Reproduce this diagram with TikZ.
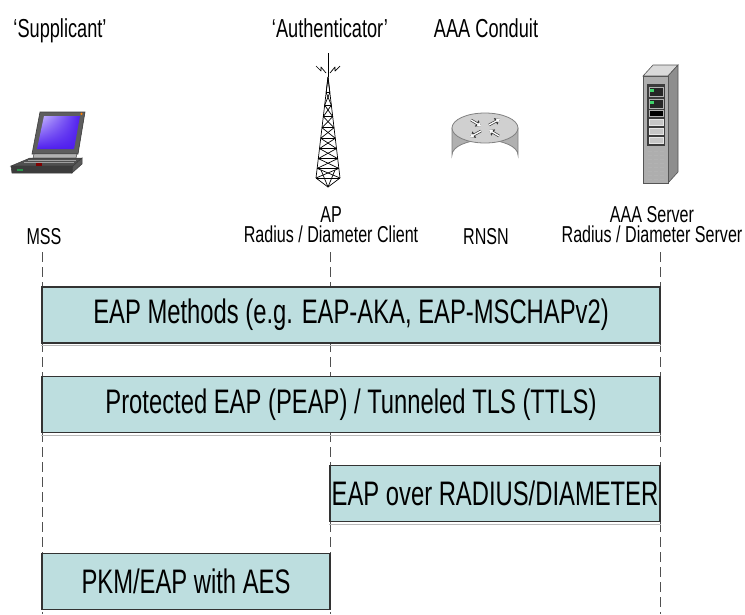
\documentclass[tikz,border=0pt]{standalone}
\usepackage{fontspec}
\setmainfont[FakeStretch=0.70]{Liberation Sans}
\usetikzlibrary{arrows.meta,shadings}

\definecolor{boxfill}{HTML}{BDDEDF}
\definecolor{boxedge}{HTML}{333333}
\definecolor{lifegray}{HTML}{505050}
\definecolor{lidgray}{HTML}{5E5E5E}
\definecolor{darkgray2}{HTML}{3C3C3C}
\definecolor{screenblue}{HTML}{4F1EEE}
\definecolor{screenlight}{HTML}{CFC4FF}
\definecolor{routertop}{HTML}{D0D0D0}
\definecolor{routerside}{HTML}{B0B0B0}
\definecolor{routeredge}{HTML}{808080}
\definecolor{srvfront}{HTML}{AEAEAE}
\definecolor{srvtop}{HTML}{DADADA}
\definecolor{srvside}{HTML}{8E8E8E}
\definecolor{srvedge}{HTML}{555555}
\definecolor{ledgreen}{HTML}{3FD36A}

\tikzset{
  layerbox/.style={draw=boxedge, line width=1.3pt, fill=boxfill, inner sep=0pt,
    minimum height=56pt, font=\fontsize{34}{38}\selectfont},
  boxshadow/.style={draw=gray!55, line width=1pt},
  toplabel/.style={inner sep=0pt, anchor=base, font=\fontsize{26}{28}\selectfont},
  sublabel/.style={inner sep=0pt, align=center, font=\fontsize{23}{20}\selectfont},
  lifeline/.style={draw=lifegray, line width=0.8pt, dash pattern=on 10pt off 5pt},
  towerline/.style={draw=black, line width=0.7pt, line join=round},
}

\begin{document}
\begin{tikzpicture}[x=1pt, y=-1pt]
\useasboundingbox (0,0) rectangle (745,614);

% ---------- role headings ----------
\node[toplabel] (supplicant) at (60,37) {‘Supplicant’};
\node[toplabel] (authenticator) at (330,37) {‘Authenticator’};
\node[toplabel] (conduit) at (486,37) {AAA Conduit};

% ---------- laptop (MSS) ----------
\fill[lidgray, draw=darkgray2, line width=0.6pt] (40,112) -- (85,112) -- (78,154) -- (32,154) -- cycle;
\shade[upper left=screenlight, upper right=screenblue, lower left=screenblue, lower right=screenblue]
  (44,116) -- (80,116) -- (74,149) -- (37,149) -- cycle;
\fill[orange] (81.5,113.8) circle (1.2pt);
\fill[gray!60, draw=darkgray2, line width=0.4pt] (34,154) -- (77,154) -- (76,158) -- (33,158) -- cycle;
% base: top, front and side faces
\fill[lidgray!85!black, draw=darkgray2, line width=0.5pt] (30,158) -- (82,158) -- (73,166) -- (11,166) -- cycle;
\fill[darkgray2, draw=darkgray2, line width=0.5pt] (11,166) -- (73,166) -- (72,173) -- (12,173) -- cycle;
\fill[gray!70!black, draw=darkgray2, line width=0.5pt] (73,166) -- (82,158) -- (82,164) -- (72,173) -- cycle;
\draw[gray!75, line width=0.7pt] (28,160) -- (76,160) (24,162.5) -- (74,162.5);
\fill[red!50!black] (36,163) rectangle (42,165.5);
\fill[ledgreen!70!black] (17,169) rectangle (23,170.5);

% ---------- antenna tower (AP) ----------
\draw[towerline] (328,53) -- (328,77);
\draw[towerline] (316,66) -- (321,71) -- (321,67) -- (326,73);
\draw[towerline] (340,66) -- (335,71) -- (335,67) -- (330,73);
\draw[towerline] (328,77) -- (316,178) (328,77) -- (340,178);
\foreach \i in {1,...,9}{
  \pgfmathsetmacro\ta{((\i-1)/9)^0.85}
  \pgfmathsetmacro\tb{(\i/9)^0.85}
  \draw[towerline] ({328-12*\tb},{77+101*\tb}) -- ({328+12*\tb},{77+101*\tb});
  \draw[towerline] ({328-12*\ta},{77+101*\ta}) -- ({328+12*\tb},{77+101*\tb});
  \draw[towerline] ({328+12*\ta},{77+101*\ta}) -- ({328-12*\tb},{77+101*\tb});
}
\draw[towerline] (316,178) -- (328,187) -- (340,178);
\draw[towerline] (321,170) -- (328,187) -- (335,170);

% ---------- router (RNSN) ----------
\fill[routerside, draw=routeredge, line width=0.8pt]
  (452,128) -- (452,155) arc[start angle=180, end angle=360, x radius=33, y radius=15] -- (518,128) -- cycle;
\fill[routertop, draw=routeredge, line width=0.8pt] (485,128) ellipse[x radius=33, y radius=15];
\foreach \sx/\sy/\ex/\ey in {471/120/481/126, 499/136/489/130, 489/125/500/119, 481/131/470/137}{
  \draw[-{Triangle[width=7pt,length=5pt]}, draw=gray!40!black, line width=2.6pt] (\sx,\sy) -- (\ex,\ey);
  \draw[-{Triangle[width=4.5pt,length=3.5pt]}, draw=white, line width=1.3pt] (\sx,\sy) -- (\ex,\ey);
}

% ---------- server (AAA) ----------
\fill[srvtop, draw=srvedge, line width=0.6pt] (643,76) -- (668,76) -- (678,65) -- (653,65) -- cycle;
\fill[srvside, draw=srvedge, line width=0.6pt] (668,76) -- (678,65) -- (678,172) -- (668,183) -- cycle;
\fill[srvfront, draw=srvedge, line width=0.6pt] (643,76) rectangle (668,183);
\fill[darkgray2] (647,84) rectangle (665,146);
\fill[gray!30!black, draw=gray!60] (649,87) rectangle (663,96);
\fill[ledgreen] (650,89) rectangle (654,91.5);
\fill[gray!30!black, draw=gray!60] (649,99) rectangle (663,108);
\fill[ledgreen] (650,101) rectangle (654,103.5);
\fill[black, draw=gray!60] (649,110) rectangle (663,116);
\foreach \yy in {119,128,137}{
  \fill[gray!45, draw=gray!20] (649,\yy) rectangle (663,{\yy+6});
}
\foreach \yy in {151,155,...,179}{
  \draw[gray!60, line width=0.6pt] (648,\yy) -- (652,\yy) (654,\yy) -- (658,\yy) (660,\yy) -- (664,\yy);
}

% ---------- entity labels ----------
\node[sublabel, anchor=north] (ap) at (331,206.5) {AP\\Radius / Diameter Client};
\node[sublabel, anchor=base] (mss) at (44,244) {MSS};
\node[sublabel, anchor=base] (rnsn) at (486,244) {RNSN};
\node[sublabel, anchor=north] (aaa) at (652,206.5) {AAA Server\\Radius / Diameter Server};

% ---------- lifelines ----------
\coordinate (mssTop) at (42,252);  \coordinate (mssEnd) at (42,614);
\coordinate (apTop)  at (330,252); \coordinate (apEnd)  at (330,614);
\coordinate (aaaTop) at (660,252); \coordinate (aaaEnd) at (660,614);
\draw[lifeline] (mssTop) -- (mssEnd);
\draw[lifeline] (apTop) -- (apEnd);
\draw[lifeline] (aaaTop) -- (aaaEnd);

% ---------- protocol layers ----------
\node[layerbox, minimum width=618pt] (methods) at (351,315) {EAP Methods (e.g. EAP-AKA, EAP-MSCHAPv2)};
\node[layerbox, minimum width=618pt] (peap) at (351,404.5) {Protected EAP (PEAP) / Tunneled TLS (TTLS)};
\node[layerbox, minimum width=330pt] (radius) at (495,493.5) {EAP over RADIUS/DIAMETER};
\node[layerbox, minimum width=288pt] (pkm) at (186,581.5) {PKM/EAP with AES};

% soft edge under each layer
\foreach \b in {methods,peap,radius}{
  \draw[boxshadow] ([yshift=-2pt]\b.south west) -- ([yshift=-2pt]\b.south east);
}
\end{tikzpicture}
\end{document}
